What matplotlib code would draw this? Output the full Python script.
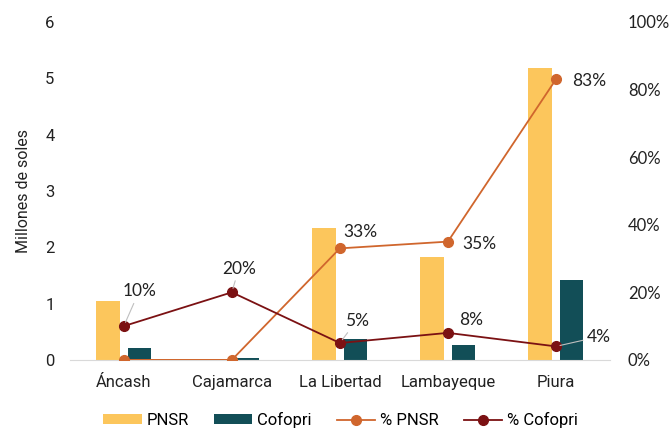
import matplotlib.pyplot as plt
import numpy as np

# datos
regiones = ["Áncash", "Cajamarca", "La Libertad", "Lambayeque", "Piura"]
pnsr = [1.05, 0.0, 2.34, 1.82, 5.19]
cofopri = [0.21, 0.03, 0.37, 0.27, 1.42]
pct_pnsr = [0.0, 0.0, 33.0, 35.0, 83.0]
pct_cofopri = [10.0, 20.0, 5.0, 8.0, 4.0]

# etiquetas: (texto, desplazamiento en puntos, con linea guia)
etiq_pnsr = [None, None, ("33%", (15, 12), False), ("35%", (23, -2), False), ("83%", (24, -1), False)]
etiq_cofopri = [("10%", (11, 25), True), ("20%", (5, 17), True), ("5%", (12, 16), True),
                ("8%", (17, 9), False), ("4%", (31, 7), True)]

c_pnsr = "#FCC65C"
c_cofopri = "#124E57"
c_lpnsr = "#D0662D"
c_lcofopri = "#7B1113"

plt.rcParams["font.family"] = ["Roboto", "DejaVu Sans"]

fig = plt.figure(figsize=(6.71, 4.30), dpi=100)
ax = fig.add_axes([0.104, 0.163, 0.805, 0.786])
ax2 = ax.twinx()

x = np.arange(len(regiones))
w = 0.22
ax.bar(x - 0.145, pnsr, w, color=c_pnsr, label="PNSR")
ax.bar(x + 0.145, cofopri, w, color=c_cofopri, label="Cofopri")

ax2.plot(x, pct_pnsr, "-o", color=c_lpnsr, lw=1.3, ms=7, label="% PNSR")
ax2.plot(x, pct_cofopri, "-o", color=c_lcofopri, lw=1.3, ms=7, label="% Cofopri")

ax.set_xlim(-0.5, 4.5)
ax.set_ylim(0, 6)
ax2.set_ylim(0, 100)
ax.set_yticks(range(0, 7))
ax2.set_yticks(range(0, 101, 20))
ax2.set_yticklabels([f"{v}%" for v in range(0, 101, 20)], family=["Lato", "DejaVu Sans"])
ax.set_xticks(x)
ax.set_xticklabels(regiones)

for a in (ax, ax2):
    for s in a.spines.values():
        s.set_visible(False)
ax.spines["bottom"].set_visible(True)
ax.spines["bottom"].set_color("#D9D9D9")
ax.tick_params(axis="y", length=0, pad=11, labelsize=12, labelcolor="#222222")
ax.tick_params(axis="x", length=0, pad=11, labelsize=12, labelcolor="#222222")
ax2.tick_params(axis="y", length=0, pad=13, labelsize=12, labelcolor="#222222")
ax.set_ylabel("Millones de soles", fontsize=11.5, color="#222222", labelpad=10)

def etiquetar(valores, etiquetas):
    for i, e in enumerate(etiquetas):
        if e is None:
            continue
        txt, off, guia = e
        props = dict(arrowstyle="-", color="#BFBFBF", lw=0.8, shrinkA=1, shrinkB=3) if guia else None
        ax2.annotate(txt, (x[i], valores[i]), xytext=off, textcoords="offset points",
                     ha="center", va="center", fontsize=12.5, color="#222222",
                     family=["Lato", "DejaVu Sans"], arrowprops=props)

etiquetar(pct_pnsr, etiq_pnsr)
etiquetar(pct_cofopri, etiq_cofopri)

h1, l1 = ax.get_legend_handles_labels()
h2, l2 = ax2.get_legend_handles_labels()
fig.legend(h1 + h2, l1 + l2, loc="center", bbox_to_anchor=(0.508, 1 - 420 / 430), ncol=4,
           frameon=False, fontsize=12, handlelength=2.3, handleheight=0.55,
           columnspacing=1.5, handletextpad=0.3, borderpad=0.1)

fig.savefig("out.png", dpi=100)
